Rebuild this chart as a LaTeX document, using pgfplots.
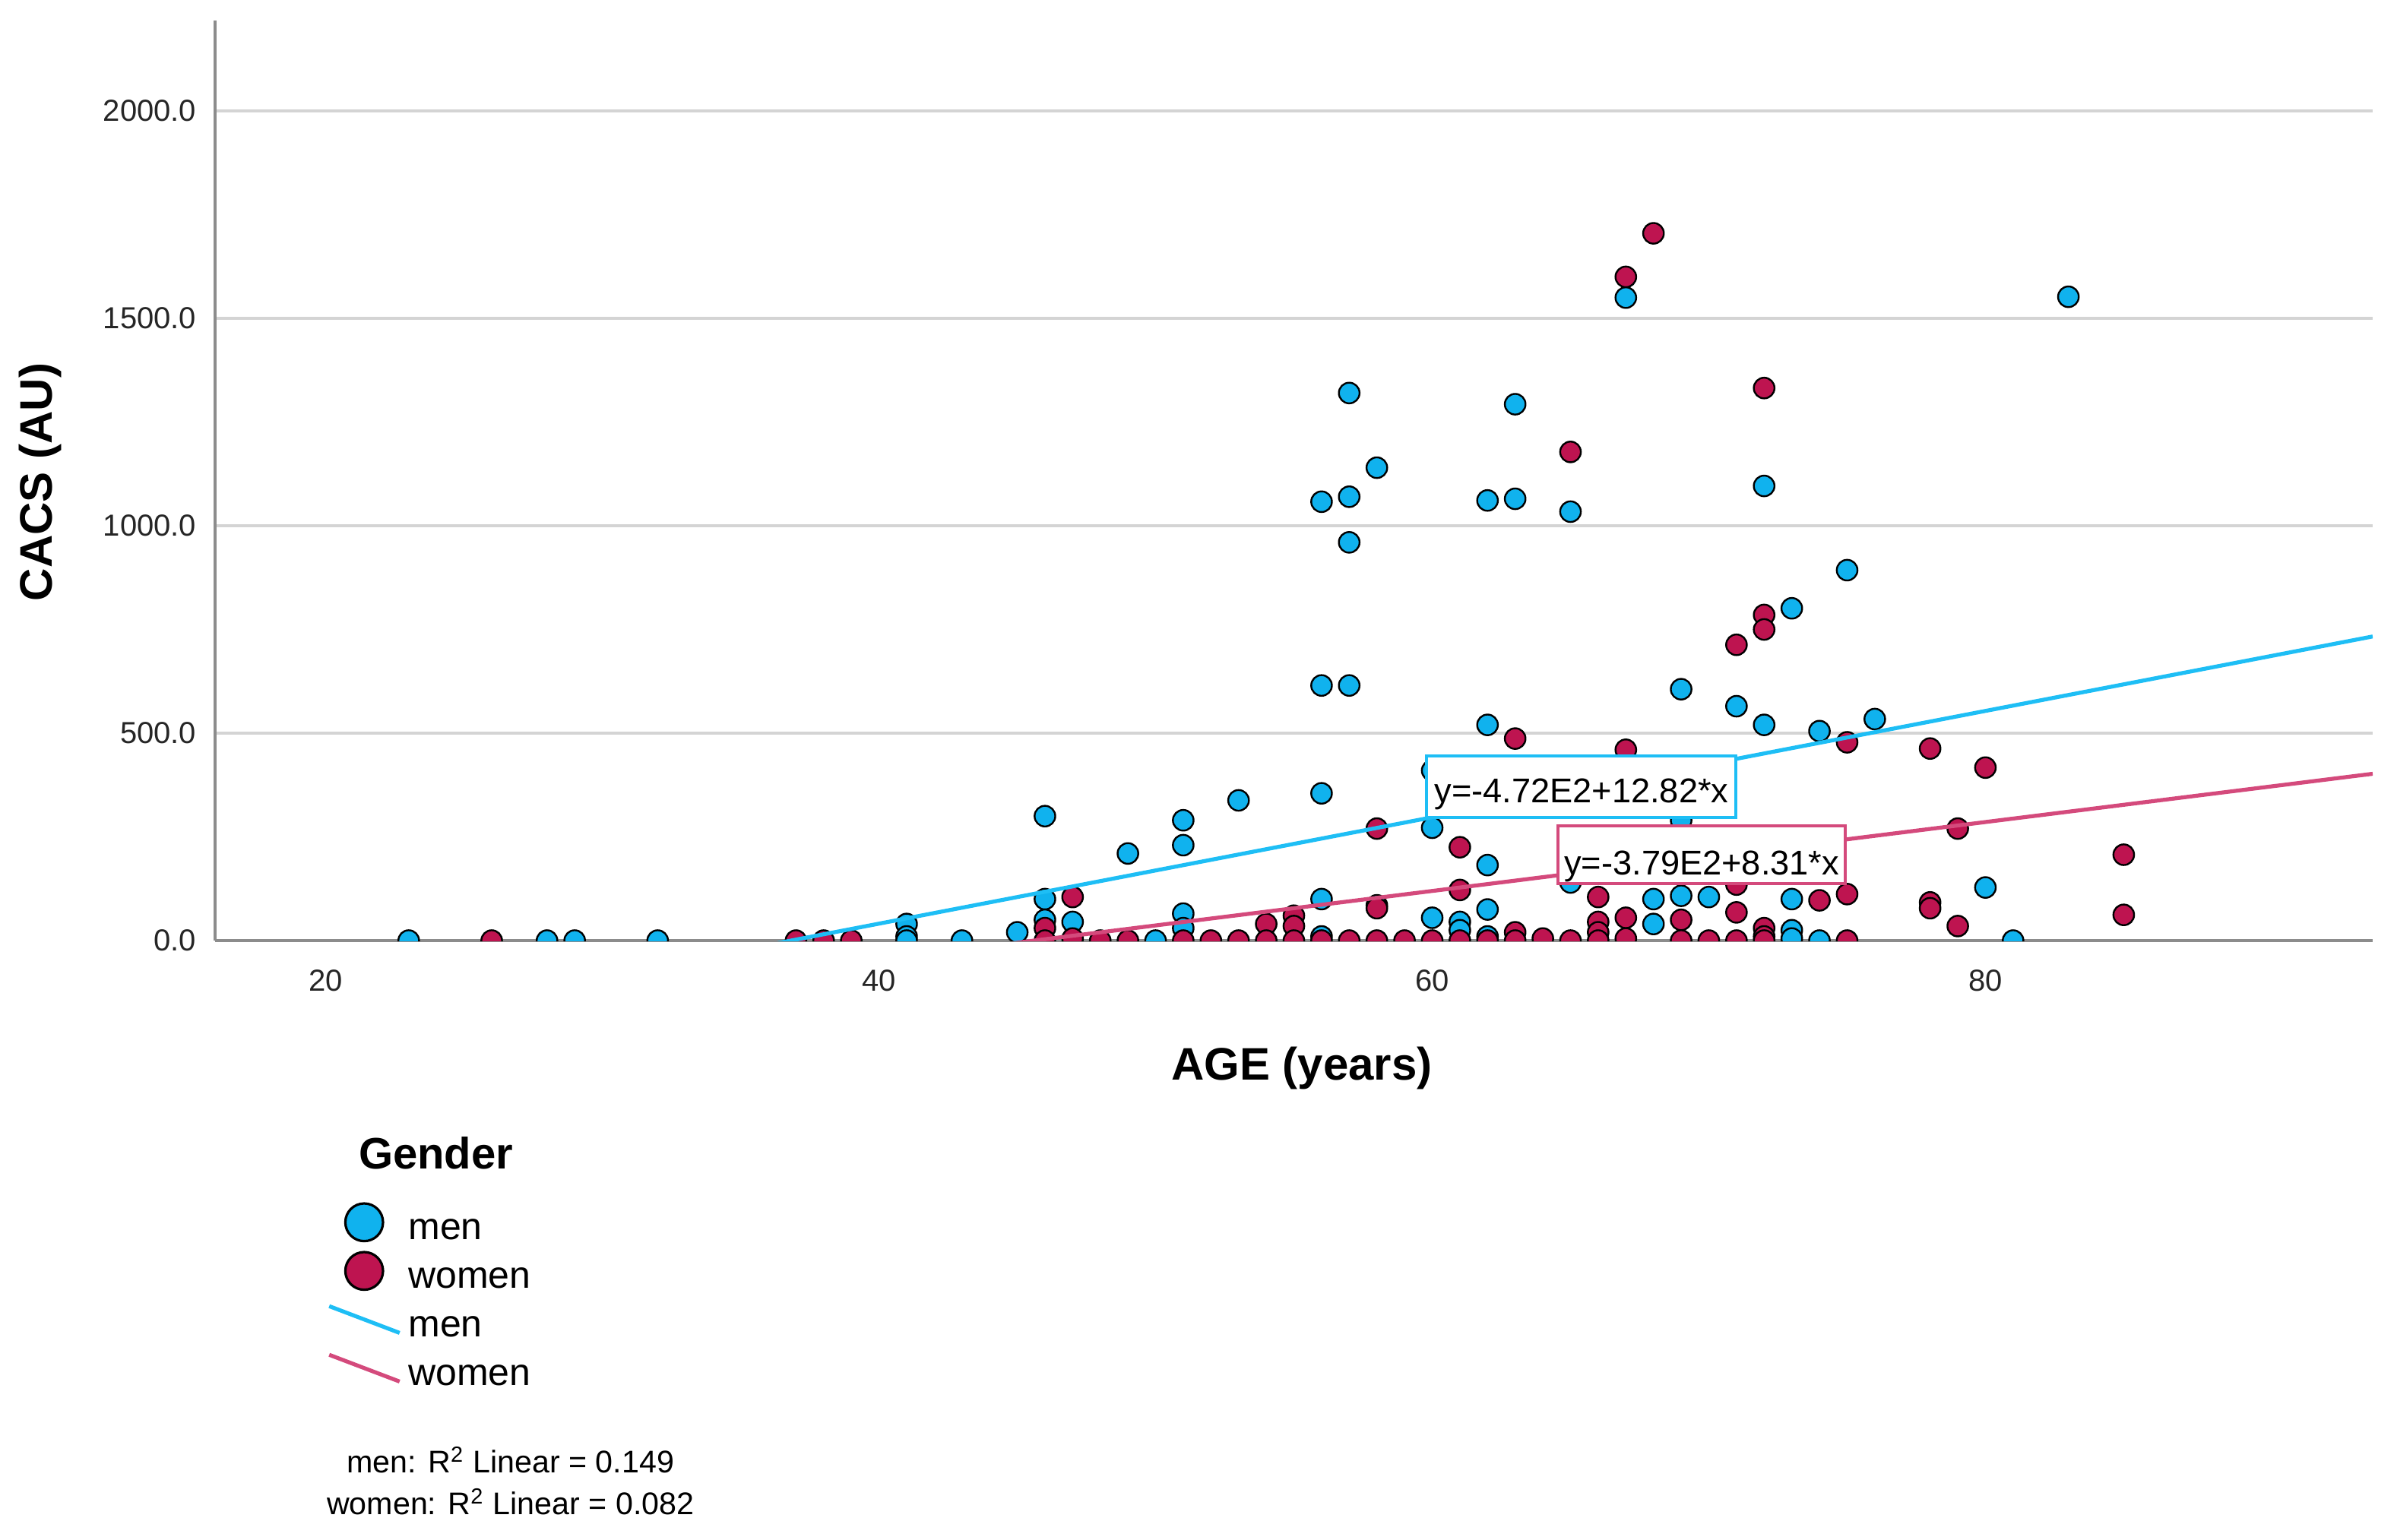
\documentclass[border=0pt]{standalone}
\usepackage{pgfplots}
\usepackage{pgfplotstable}
\pgfplotsset{compat=1.18}
\usepackage{fontspec}
\setmainfont{Liberation Sans}

\definecolor{menfill}{HTML}{10B2EE}
\definecolor{womenfill}{HTML}{BE1450}
\definecolor{menline}{HTML}{1EBEF5}
\definecolor{womenline}{HTML}{D44A7C}
\definecolor{gridgray}{HTML}{D4D4D4}
\definecolor{axisgray}{HTML}{8C8C8C}

% CACS (AU) against age
\pgfplotstableread{
age cacs
23 0
28 0
29 0
32 0
41 40
41 10
41 0
43 0
45 20
46 300
46 100
46 50
47 45
49 210
50 0
51 290
51 230
51 65
51 30
53 338
56 1058
56 615
56 355
56 100
56 10
57 1320
57 1070
57 960
57 615
58 1140
58 85
60 410
60 272
60 55
61 45
61 25
62 1061
62 520
62 182
62 75
62 10
63 1293
63 1065
65 1034
65 140
67 1550
68 100
68 40
69 606
69 290
69 108
70 105
71 565
72 1096
72 520
73 801
73 100
73 25
73 5
74 505
74 0
75 893
76 534
80 128
81 0
83 1552
}\mendata

\pgfplotstableread{
age cacs
26 0
37 0
38 0
39 0
46 30
46 0
47 105
47 5
48 0
49 0
51 0
52 0
53 0
54 40
54 0
55 60
55 35
55 0
56 0
57 0
58 270
58 78
58 0
59 0
60 0
61 225
61 122
61 0
62 0
63 487
63 20
63 0
64 5
65 1178
65 0
66 105
66 45
66 20
66 0
67 1600
67 460
67 55
67 5
68 1705
69 50
69 0
70 0
71 713
71 135
71 68
71 0
72 1332
72 785
72 750
72 30
72 10
72 0
74 97
75 478
75 112
75 0
78 463
78 92
78 78
79 270
79 35
80 417
85 207
85 62
}\womendata

\begin{document}
\begin{tikzpicture}
\begin{axis}[
    at={(0pt,0pt)}, anchor=south west,
    scale only axis,
    width=709.75pt, height=302.75pt,
    xmin=16, xmax=94,
    ymin=0, ymax=2218,
    xtick={20,40,60,80},
    ytick={0,500,1000,1500,2000},
    axis x line*=bottom, axis y line*=left,
    axis line style={-, draw=axisgray, line width=0.9pt},
    major tick length=0pt,
    ymajorgrids,
    grid style={draw=gridgray, line width=1.2pt},
    clip marker paths=true,
    /pgf/number format/assume math mode=true,
    tick label style={font=\fontsize{10}{12}\selectfont, text=black!85},
    yticklabel style={inner sep=0pt, xshift=-6pt,
        /pgf/number format/.cd, fixed, fixed zerofill, precision=1, 1000 sep={}},
    xticklabel style={inner sep=0pt, yshift=-9.5pt},
    xlabel={AGE (years)},
    ylabel={CACS (AU)},
    xlabel style={at={(axis description cs:0.5037,-0.15112)}, anchor=base,
        font=\bfseries\fontsize{15}{18}\selectfont},
    ylabel style={at={(axis description cs:-0.07538,0.49843)}, anchor=base,
        font=\bfseries\fontsize{15}{18}\selectfont},
    legend cell align=left,
    legend style={at={(axis description cs:0.05171,-0.2791)}, anchor=north west,
        draw=none, fill=none, inner sep=0pt, row sep=0pt, column sep=0pt,
        font=\fontsize{12.5}{14}\selectfont,
        nodes={inner sep=0pt, text height=13pt, text depth=1.8pt}},
]

\addplot[only marks, mark=*, mark size=3.4pt,
    mark options={fill=menfill, draw=black, line width=0.6pt},
    legend image code/.code={
        \path[draw=none, fill=none] (0pt,-8pt) rectangle (23pt,8pt);
        \draw[fill=menfill, draw=black, line width=0.8pt] (8.45pt,0pt) circle[radius=6.2pt];
    }]
    table[x=age, y=cacs] {\mendata};
\addlegendentry{men}

\addplot[only marks, mark=*, mark size=3.4pt,
    mark options={fill=womenfill, draw=black, line width=0.6pt},
    legend image code/.code={
        \path[draw=none, fill=none] (0pt,-8pt) rectangle (23pt,8pt);
        \draw[fill=womenfill, draw=black, line width=0.8pt] (8.45pt,0pt) circle[radius=6.2pt];
    }]
    table[x=age, y=cacs] {\womendata};
\addlegendentry{women}

% fit lines: y=-472+12.82x and y=-379+8.31x over the axis range
\addplot[menline, line width=1.3pt, no marks,
    legend image code/.code={
        \path[draw=none, fill=none] (0pt,-8pt) rectangle (23pt,8pt);
        \draw[menline, line width=1.3pt] (-3.05pt,4.4pt) -- (20.1pt,-4.4pt);
    }]
    coordinates {(16,-266.9) (94,733.1)};
\addlegendentry{men}

\addplot[womenline, line width=1.3pt, no marks,
    legend image code/.code={
        \path[draw=none, fill=none] (0pt,-8pt) rectangle (23pt,8pt);
        \draw[womenline, line width=1.3pt] (-3.05pt,4.4pt) -- (20.1pt,-4.4pt);
    }]
    coordinates {(16,-246.0) (94,402.1)};
\addlegendentry{women}

\node[draw=menline, line width=1pt, fill=white, anchor=south west,
    inner xsep=2.5pt, inner ysep=0pt, text height=15.25pt, text depth=5pt,
    font=\fontsize{11.3}{13}\selectfont]
    at (axis cs:59.75,293) {y=-4.72E2+12.82*x};
\node[draw=womenline, line width=1pt, fill=white, anchor=south west,
    inner xsep=2pt, inner ysep=0pt, text height=16pt, text depth=3pt,
    font=\fontsize{11.3}{13}\selectfont]
    at (axis cs:64.5,133.7) {y=-3.79E2+8.31*x};
\end{axis}

\node[anchor=base west, font=\bfseries\fontsize{14.5}{17}\selectfont]
    at (43.75pt,-75pt) {Gender};
\node[anchor=base, font=\fontsize{10.3}{12}\selectfont]
    at (97.2pt,-175.15pt) {men: R\textsuperscript{2} Linear = 0.149};
\node[anchor=base, font=\fontsize{10.3}{12}\selectfont]
    at (97.2pt,-188.9pt) {women: R\textsuperscript{2} Linear = 0.082};

\pgfresetboundingbox
\path (-70.75pt,-197pt) rectangle (717.75pt,309.5pt);
\end{tikzpicture}
\end{document}
